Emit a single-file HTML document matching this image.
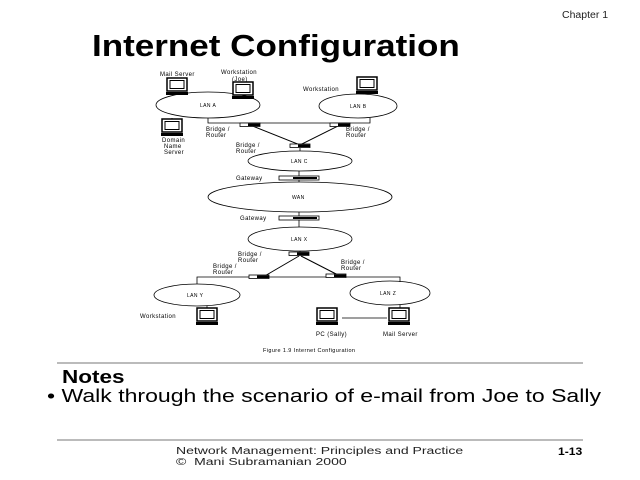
<!DOCTYPE html>
<html><head><meta charset="utf-8"><style>
body{margin:0;background:#fff;width:640px;height:480px;overflow:hidden;position:relative;font-family:"Liberation Sans",sans-serif}
.a{position:absolute;white-space:nowrap;transform-origin:0 0}
</style></head><body>
<div class="a" style="left:562px;top:10px;font-size:10px;color:#222;transform:scaleX(1.05)">Chapter 1</div>
<div class="a" style="left:92px;top:28px;font-size:31px;font-weight:bold;transform:scaleX(1.13)">Internet Configuration</div>
<svg class="a" style="left:0;top:0" width="640" height="480" font-family="Liberation Sans, sans-serif" font-size="6" letter-spacing="0.4">
<defs>
<g id="pc"><rect x="0" y="0" width="20" height="13" fill="#fff" stroke="#000" stroke-width="1.5"/><rect x="3" y="2.5" width="14" height="8" fill="none" stroke="#000" stroke-width="1"/><rect x="-1" y="14" width="22" height="3" fill="#000"/></g>
<g id="br"><rect x="0" y="0" width="20" height="3.5" fill="#fff" stroke="#000" stroke-width="0.8"/><rect x="8" y="0.5" width="12" height="2.5" fill="#000"/></g>
</defs>
<g fill="none" stroke="#000" stroke-width="0.8">
<ellipse cx="208" cy="105" rx="52" ry="13"/>
<ellipse cx="358" cy="106" rx="39" ry="12"/>
<ellipse cx="300" cy="161" rx="52" ry="10"/>
<ellipse cx="300" cy="197" rx="92" ry="15"/>
<ellipse cx="300" cy="239" rx="52" ry="12"/>
<ellipse cx="197" cy="295" rx="43" ry="11"/>
<ellipse cx="390" cy="293" rx="40" ry="12"/>
<path d="M208 118V123H370V118"/>
<path d="M177 95V92M243 92V97M365 93V94M172 118V120"/>
<path d="M250 125L300 145L340 125" stroke-width="1"/>
<path d="M300 148V151"/>
<path d="M299 171V176M299 180V182M299 212V216M299 220V227"/>
<path d="M300 251V254"/>
<path d="M299 256L263 277M301 256L340 276" stroke-width="1"/>
<path d="M197 284V277H400V282"/>
<path d="M207 306V309M400 305V309M342 318L387 318"/>
</g>
<use href="#br" x="240" y="123"/>
<use href="#br" x="330" y="123"/>
<use href="#br" x="290" y="144"/>
<use href="#br" x="289" y="252"/>
<use href="#br" x="249" y="275"/>
<use href="#br" x="326" y="274"/>
<rect x="279" y="176" width="40" height="4" fill="#fff" stroke="#000" stroke-width="0.8"/>
<rect x="293" y="177" width="24" height="2" fill="#000"/>
<rect x="279" y="216" width="40" height="4" fill="#fff" stroke="#000" stroke-width="0.8"/>
<rect x="293" y="217" width="24" height="2" fill="#000"/>
<use href="#pc" x="167" y="78"/>
<use href="#pc" x="233" y="82"/>
<use href="#pc" x="357" y="77"/>
<use href="#pc" x="162" y="119"/>
<use href="#pc" x="197" y="308"/>
<use href="#pc" x="317" y="308"/>
<use href="#pc" x="389" y="308"/>
<g fill="#000">
<text x="160" y="76">Mail Server</text>
<text x="221" y="74">Workstation</text><text x="232" y="81">(Joe)</text>
<text x="303" y="91">Workstation</text>
<text x="200" y="107" font-size="5">LAN A</text>
<text x="350" y="108" font-size="5">LAN B</text>
<text x="291" y="163" font-size="5">LAN C</text>
<text x="292" y="199" font-size="5">WAN</text>
<text x="291" y="241" font-size="5">LAN X</text>
<text x="187" y="297" font-size="5">LAN Y</text>
<text x="380" y="295" font-size="5">LAN Z</text>
<text x="162" y="142">Domain</text><text x="164" y="148">Name</text><text x="164" y="154">Server</text>
<text x="206" y="131">Bridge /</text><text x="206" y="137">Router</text>
<text x="346" y="131">Bridge /</text><text x="346" y="137">Router</text>
<text x="236" y="147">Bridge /</text><text x="236" y="153">Router</text>
<text x="236" y="180">Gateway</text>
<text x="240" y="220">Gateway</text>
<text x="238" y="256">Bridge /</text><text x="238" y="262">Router</text>
<text x="213" y="268">Bridge /</text><text x="213" y="274">Router</text>
<text x="341" y="264">Bridge /</text><text x="341" y="270">Router</text>
<text x="140" y="318">Workstation</text>
<text x="316" y="336">PC (Sally)</text>
<text x="383" y="336">Mail Server</text>
<text x="263" y="352" font-size="5.5">Figure 1.9 Internet Configuration</text>
</g>
<line x1="57" y1="363" x2="583" y2="363" stroke="#777" stroke-width="1"/>
<line x1="57" y1="440" x2="583" y2="440" stroke="#777" stroke-width="1"/>
</svg>
<div class="a" style="left:62px;top:367px;font-size:18px;font-weight:bold;transform:scaleX(1.25)">Notes</div>
<div class="a" style="left:47px;top:386px;font-size:18px;transform:scaleX(1.28)">• Walk through the scenario of e-mail from Joe to Sally</div>
<div class="a" style="left:176px;top:446px;font-size:10px;line-height:11px;color:#222;transform:scaleX(1.4)">Network Management: Principles and Practice<br>© &nbsp;Mani Subramanian 2000</div>
<div class="a" style="left:558px;top:446px;font-size:11px;font-weight:bold;transform:scaleX(1.1)">1-13</div>
</body></html>
